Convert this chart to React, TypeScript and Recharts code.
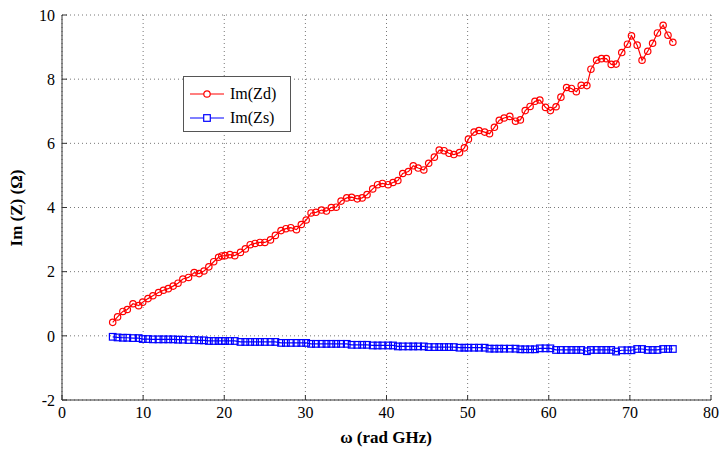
import React from 'react';
import {
    LineChart,
    Line,
    XAxis,
    YAxis,
    CartesianGrid,
    Legend,
} from 'recharts';

// ω sample points (rad GHz)
const omega = [
    6.25, 6.85, 7.5, 8.05, 8.75, 9.45, 9.95, 10.6, 11.2, 11.9,
    12.5, 13.1, 13.7, 14.3, 14.9, 15.6, 16.3, 16.9, 17.5, 18.1,
    18.7, 19.3, 19.7, 20.1, 20.7, 21.3, 22.0, 22.6, 23.2, 23.8,
    24.4, 25.0, 25.7, 26.3, 27.0, 27.6, 28.2, 28.9, 29.5, 30.1,
    30.7, 31.3, 32.0, 32.6, 33.2, 33.8, 34.4, 35.1, 35.7, 36.4,
    37.0, 37.6, 38.3, 38.9, 39.5, 40.2, 40.8, 41.4, 42.0, 42.7,
    43.3, 43.9, 44.6, 45.2, 45.9, 46.5, 47.1, 47.7, 48.3, 49.0,
    49.6, 50.1, 50.8, 51.4, 52.1, 52.7, 53.3, 53.9, 54.5, 55.2,
    55.9, 56.5, 57.1, 57.7, 58.3, 58.9, 59.6, 60.2, 60.9, 61.5,
    62.2, 62.8, 63.4, 64.0, 64.7, 65.2, 65.9, 66.5, 67.1, 67.7,
    68.3, 69.0, 69.7, 70.2, 70.9, 71.5, 72.2, 72.8, 73.4, 74.1,
    74.7, 75.3,
];

const imZd = [
    0.42, 0.59, 0.76, 0.82, 1.00, 0.94, 1.05, 1.16, 1.25, 1.35,
    1.42, 1.47, 1.55, 1.64, 1.77, 1.82, 1.97, 1.94, 2.02, 2.15,
    2.31, 2.45, 2.49, 2.50, 2.53, 2.50, 2.60, 2.71, 2.84, 2.88,
    2.91, 2.91, 2.99, 3.13, 3.28, 3.34, 3.37, 3.31, 3.47, 3.61,
    3.83, 3.85, 3.92, 3.89, 4.00, 4.01, 4.20, 4.30, 4.32, 4.27,
    4.30, 4.40, 4.58, 4.71, 4.75, 4.71, 4.78, 4.84, 5.06, 5.12,
    5.30, 5.23, 5.17, 5.38, 5.57, 5.79, 5.77, 5.69, 5.65, 5.71,
    5.86, 6.13, 6.35, 6.40, 6.35, 6.30, 6.50, 6.72, 6.79, 6.84,
    6.69, 6.73, 7.02, 7.15, 7.31, 7.35, 7.12, 7.02, 7.14, 7.44,
    7.74, 7.71, 7.61, 7.81, 7.80, 8.31, 8.59, 8.64, 8.64, 8.46,
    8.47, 8.83, 9.09, 9.35, 9.06, 8.59, 8.87, 9.12, 9.44, 9.68,
    9.37, 9.15,
];

const imZs = [
    -0.03, -0.05, -0.06, -0.06, -0.07, -0.07, -0.10, -0.10, -0.11, -0.11,
    -0.11, -0.11, -0.11, -0.12, -0.12, -0.13, -0.13, -0.14, -0.14, -0.16,
    -0.16, -0.16, -0.16, -0.16, -0.16, -0.16, -0.19, -0.19, -0.19, -0.19,
    -0.19, -0.19, -0.19, -0.19, -0.22, -0.22, -0.22, -0.22, -0.22, -0.22,
    -0.25, -0.25, -0.25, -0.25, -0.25, -0.25, -0.25, -0.25, -0.28, -0.28,
    -0.28, -0.28, -0.30, -0.30, -0.30, -0.30, -0.30, -0.33, -0.33, -0.33,
    -0.33, -0.33, -0.33, -0.35, -0.35, -0.35, -0.35, -0.35, -0.35, -0.37,
    -0.37, -0.37, -0.37, -0.37, -0.37, -0.40, -0.40, -0.40, -0.40, -0.40,
    -0.40, -0.42, -0.42, -0.42, -0.42, -0.39, -0.39, -0.39, -0.44, -0.44,
    -0.44, -0.44, -0.44, -0.44, -0.48, -0.44, -0.44, -0.44, -0.44, -0.44,
    -0.49, -0.45, -0.45, -0.45, -0.41, -0.41, -0.44, -0.44, -0.44, -0.41,
    -0.41, -0.41,
];

const xTicks = [0, 10, 20, 30, 40, 50, 60, 70, 80];
const yTicks = [-2, 0, 2, 4, 6, 8, 10];

const data = omega.map((w, i) => ({ w, zd: imZd[i], zs: imZs[i] }));

const FONT = "'Liberation Serif', 'Times New Roman', serif";
const AXIS = '#333333';

const SquareDot = (props: any) => {
    const { cx, cy, index } = props;
    if (cx == null || cy == null) return <g key={`s-${index}`} />;
    return <rect key={`s-${index}`} x={cx - 3.3} y={cy - 3.3} width={6.6} height={6.6} fill="none" stroke="#0000ff" strokeWidth={1.2} />;
};

const LegendBox = () => (
    <div style={{ width: 108, height: 56, border: '1px solid #555', background: '#fff', fontFamily: FONT, fontSize: 16, color: '#000', boxSizing: 'border-box', paddingTop: 5 }}>
        <div style={{ display: 'flex', alignItems: 'center', height: 24 }}>
            <svg width={42} height={12} style={{ marginLeft: 4 }}>
                <line x1={2} y1={6} x2={36} y2={6} stroke="#ff0000" strokeWidth={1.2} />
                <circle cx={19} cy={6} r={3.2} fill="#fff" stroke="#ff0000" strokeWidth={1.2} />
            </svg>
            <span>Im(Zd)</span>
        </div>
        <div style={{ display: 'flex', alignItems: 'center', height: 24 }}>
            <svg width={42} height={12} style={{ marginLeft: 4 }}>
                <line x1={2} y1={6} x2={36} y2={6} stroke="#0000ff" strokeWidth={1.2} />
                <rect x={15.7} y={2.7} width={6.6} height={6.6} fill="#fff" stroke="#0000ff" strokeWidth={1.2} />
            </svg>
            <span>Im(Zs)</span>
        </div>
    </div>
);

const tickStyle = { fill: '#000', fontSize: 16 };

export default function App() {
    return (
        <div style={{ position: 'absolute', left: 0, top: 0, width: 723, height: 452, background: '#fff', fontFamily: FONT }}>
            <style>{`.imz-chart svg text { font-family: 'Liberation Serif', 'Times New Roman', serif !important; }`}</style>
            <LineChart className="imz-chart" width={723} height={452} data={data} margin={{ top: 15, right: 12, left: 0, bottom: 0 }}>
                <CartesianGrid stroke="#777" strokeDasharray="1 3" />
                <XAxis
                    dataKey="w"
                    type="number"
                    domain={[0, 80]}
                    ticks={xTicks}
                    height={52}
                    stroke={AXIS}
                    tickSize={-5}
                    tickMargin={12}
                    tick={tickStyle}
                    label={{
                        content: () => (
                            <text x={386} y={443} textAnchor="middle" fontSize={17} fontWeight="bold" fill="#000">
                                ω (rad GHz)
                            </text>
                        ),
                    }}
                />
                <XAxis xAxisId="top" orientation="top" dataKey="w" type="number" domain={[0, 80]} ticks={xTicks} height={0} stroke={AXIS} tickSize={-5} tick={false} />
                <YAxis
                    type="number"
                    domain={[-2, 10]}
                    ticks={yTicks}
                    width={62}
                    stroke={AXIS}
                    tickSize={-5}
                    tickMargin={12}
                    tick={tickStyle}
                    label={{
                        content: () => (
                            <text x={22} y={208} transform="rotate(-90 22 208)" textAnchor="middle" fontSize={17} fontWeight="bold" fill="#000">
                                Im (Z) (Ω)
                            </text>
                        ),
                    }}
                />
                <YAxis yAxisId="right" orientation="right" type="number" domain={[-2, 10]} ticks={yTicks} width={0} stroke={AXIS} tickSize={-5} tick={false} />
                <Legend
                    layout="vertical"
                    align="center"
                    verticalAlign="middle"
                    content={<LegendBox />}
                    wrapperStyle={{ left: 183, top: 76, width: 108, height: 56, bottom: 'auto', right: 'auto' }}
                />
                <Line
                    type="linear"
                    dataKey="zd"
                    name="Im(Zd)"
                    stroke="#ff0000"
                    strokeWidth={1.2}
                    dot={{ r: 3.2, fill: 'none', stroke: '#ff0000', strokeWidth: 1.2 }}
                    isAnimationActive={false}
                />
                <Line
                    type="linear"
                    dataKey="zs"
                    name="Im(Zs)"
                    stroke="#0000ff"
                    strokeWidth={1.2}
                    dot={<SquareDot />}
                    isAnimationActive={false}
                />
            </LineChart>
        </div>
    );
}
